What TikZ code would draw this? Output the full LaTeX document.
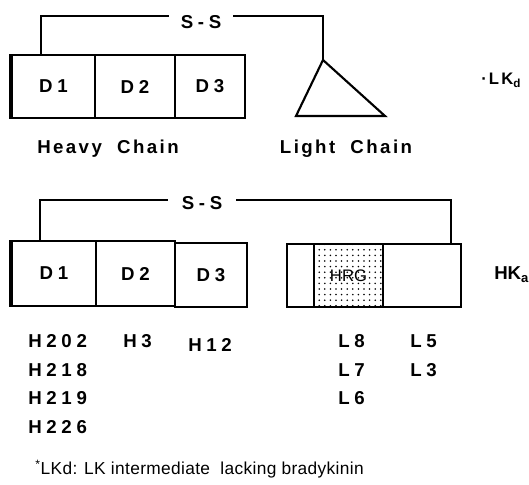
\documentclass[tikz,border=0pt]{standalone}
\usepackage{fontspec}
\setmainfont{Liberation Sans}
\newfontfamily\wordfont[LetterSpace=13]{Liberation Sans}
\newfontfamily\codefont[LetterSpace=25]{Liberation Sans}
\newfontfamily\notefont[LetterSpace=2]{Liberation Sans}
\usetikzlibrary{calc, patterns.meta}
\newcommand{\pxu}{0.75pt}

\begin{document}
\begin{tikzpicture}[x=0.75pt, y=-0.75pt,
    dom/.style={draw, line width=1.4pt, inner sep=0pt,
        font=\codefont\bfseries\fontsize{14}{16}\selectfont},
    lbl/.style={inner sep=0pt, font=\codefont\bfseries\fontsize{14}{16}\selectfont},
    word/.style={inner sep=0pt, font=\wordfont\bfseries\fontsize{14}{16}\selectfont},
    link/.style={line width=0.9pt}]
    \useasboundingbox (0,0) rectangle (529,485);
    % LKd: heavy chain domains
    \node[dom, minimum width=83*\pxu, minimum height=63*\pxu] (d1a) at (53.5,86.5) {D1};
    \node[dom, minimum width=80*\pxu, minimum height=63*\pxu] (d2a) at (135,86.5) {D2};
    \node[dom, minimum width=70*\pxu, minimum height=63*\pxu] (d3a) at (210,86.5) {D3};
    \draw[line width=2.4pt] (d1a.north west) -- (d1a.south west);
    % light chain triangle
    \coordinate (lca) at (323,60);
    \coordinate (lcr) at (385,116);
    \coordinate (lcl) at (296,116);
    \draw[line width=1.6pt, line join=miter] (lca) -- (lcr) -- (lcl) -- cycle;
    % disulfide link
    \node[lbl, inner xsep=12*\pxu] (ss1) at (201,22) {S-S};
    \draw[link] (d1a.north -| 41,0) |- ($(ss1.west)+(0,-6)$);
    \draw[link] ($(ss1.east)+(0,-6)$) -| (lca);
    \node[word] (hc) at (108,149) {Heavy\ \ Chain};
    \node[word] (lc) at (346,149) {Light\ \ Chain};
    \node[word, anchor=west, font=\wordfont\bfseries\fontsize{12.5}{14}\selectfont] (lkd) at (481,80) {·LK\textsubscript{d}};

    % HKa: heavy chain domains
    \node[dom, minimum width=84*\pxu, minimum height=65*\pxu] (d1b) at (54,273.5) {D1};
    \node[dom, minimum width=79*\pxu, minimum height=65*\pxu] (d2b) at (135.5,273.5) {D2};
    \node[dom, minimum width=72*\pxu, minimum height=64*\pxu] (d3b) at (211,275) {D3};
    \draw[line width=2.4pt] (d1b.north west) -- (d1b.south west);
    % light chain with HRG region
    \node[dom, minimum width=27*\pxu, minimum height=63*\pxu] (l1b) at (300.5,275.5) {};
    \node[dom, minimum width=69*\pxu, minimum height=63*\pxu,
        pattern={Dots[distance=4.2pt, radius=0.65pt]},
        font=\fontsize{12.5}{14}\selectfont] (hrg) at (348.5,275.5) {HRG};
    \node[dom, minimum width=78*\pxu, minimum height=63*\pxu] (l3b) at (422,275.5) {};
    \node[lbl, inner xsep=14*\pxu] (ss2) at (202,203) {S-S};
    \draw[link] (d1b.north -| 40,0) |- ($(ss2.west)+(0,-3)$);
    \draw[link] ($(ss2.east)+(0,-3)$) -| (l3b.north -| 451,0);
    \node[anchor=west, inner sep=0pt, font=\bfseries\fontsize{14}{16}\selectfont] (hka) at (494,275) {HK\textsubscript{a}};

    % monoclonal antibodies
    \node[lbl, anchor=west] (h202) at (28,341) {H202};
    \node[lbl, anchor=west] (h218) at (28,370) {H218};
    \node[lbl, anchor=west] (h219) at (28,398) {H219};
    \node[lbl, anchor=west] (h226) at (28,427) {H226};
    \node[lbl, anchor=west] (h3) at (123,341) {H3};
    \node[lbl, anchor=west] (h12) at (188,345) {H12};
    \node[lbl, anchor=west] (l8) at (338,341) {L8};
    \node[lbl, anchor=west] (l7) at (338,370) {L7};
    \node[lbl, anchor=west] (l6) at (338,398) {L6};
    \node[lbl, anchor=west] (l5) at (410,341) {L5};
    \node[lbl, anchor=west] (l3) at (410,370) {L3};

    \node[anchor=west, inner sep=0pt, font=\notefont\fontsize{13}{15}\selectfont] (note) at (35,469)
        {\textsuperscript{*}LKd: LK intermediate\ \ lacking bradykinin};
\end{tikzpicture}
\end{document}
